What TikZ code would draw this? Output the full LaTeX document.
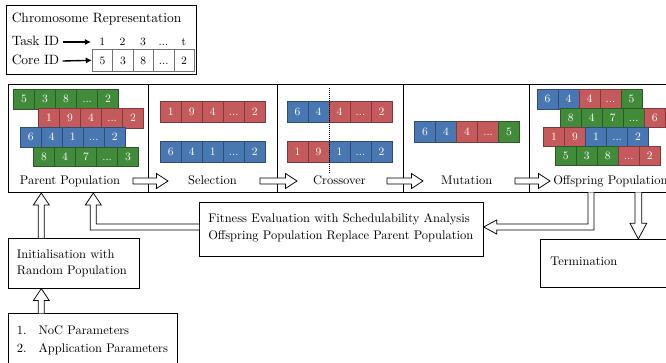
\documentclass[tikz,border=0pt]{standalone}
\usetikzlibrary{arrows.meta}
\definecolor{cgreen}{RGB}{66,139,58}
\definecolor{cred}{RGB}{196,90,92}
\definecolor{cblue}{RGB}{72,119,178}
\newcommand\celldots{...}
\tikzset{
  box/.style={draw, line width=0.6pt, anchor=north west, inner sep=0pt},
  lbl/.style={inner sep=0pt, text height=7pt, text depth=2pt},
  cell/.style={draw=#1!65!black, fill=#1, text=white, minimum width=16.8pt,
    inner sep=0pt, text height=6pt, text depth=0pt, anchor=north west,
    line width=0.5pt, font=\small},
  corecell/.style={draw=black!55, minimum width=16.3pt, minimum height=17.6pt,
    inner sep=0pt, text height=6pt, text depth=0pt, anchor=north west,
    line width=0.5pt, font=\small},
  hollow/.style={draw, fill=white, line width=0.6pt, line join=miter},
  idarrow/.style={line width=1.1pt, -{Latex[length=5pt,width=5pt]}}
}
% chromosome row: name, x, y, height(px), list colour/label
\newcommand\chromrow[5]{%
  \foreach \c/\t [count=\i] in {#5}{%
    \node[cell=\c, minimum height=#4*0.8pt] (#1-\i) at ({#2+21*(\i-1)},{#3}) {\t};
  }}
% rightward hollow arrow: x start, x tip, y
\newcommand\hollowR[3]{%
  \path[hollow] (#1,{#3-3}) -- ({#2-11.5},{#3-3}) -- ({#2-11.5},{#3-7.5}) -- (#2,#3)
    -- ({#2-11.5},{#3+7.5}) -- ({#2-11.5},{#3+3}) -- (#1,{#3+3}) -- cycle;}
% upward hollow arrow: x, y start (bottom), y tip
\newcommand\hollowU[3]{%
  \path[hollow] ({#1-3},#2) -- ({#1-3},{#3+12}) -- ({#1-8},{#3+12}) -- (#1,#3)
    -- ({#1+8},{#3+12}) -- ({#1+3},{#3+12}) -- ({#1+3},#2);}
\begin{document}
\begin{tikzpicture}[x=0.8pt,y=-0.8pt]
\useasboundingbox (0,0) rectangle (666,362);
\clip (0,0) rectangle (666,362);

% ---------- chromosome representation ----------
\node[box, minimum width=152pt, minimum height=55.2pt] (chromo) at (6,5) {};
\begin{scope}[font=\fontsize{10.8}{13}\selectfont]
  \node[lbl, anchor=west] (title) at (11.5,19) {Chromosome Representation};
  \node[lbl, anchor=west] (taskid) at (11.5,42) {Task ID};
  \node[lbl, anchor=west] (coreid) at (11.5,61) {Core ID};
\end{scope}
\foreach \t [count=\i] in {5,3,8,\celldots,2}{
  \node[corecell] (core-\i) at ({92+20.4*(\i-1)},49) {\t};
}
\foreach \t [count=\i] in {1,2,3,\celldots,t}{
  \node[lbl, font=\small] (task-\i) at ({92+20.4*(\i-0.5)},42) {\t};
}
\coordinate (taskend) at (91,42);
\draw[idarrow] ([xshift=2.5pt]taskid.east) -- (taskend);
\draw[idarrow] ([xshift=2.5pt]coreid.east) -- (core-1.west);

% ---------- stage boxes ----------
\node[box, minimum width=112pt, minimum height=86.4pt] (parent) at (8,84) {};
\node[box, minimum width=103.2pt, minimum height=86.4pt] (selection) at (148,84) {};
\node[box, minimum width=100.8pt, minimum height=86.4pt] (crossover) at (277,84) {};
\node[box, minimum width=100.8pt, minimum height=86.4pt] (mutation) at (403,84) {};
\node[box, minimum width=116pt, minimum height=86.4pt] (offspring) at (529,84) {};

% parent population
\chromrow{p1}{13.3}{89}{19.5}{cgreen/5,cgreen/3,cgreen/8,cgreen/\celldots,cgreen/2}
\chromrow{p2}{38.3}{108}{19.5}{cred/1,cred/9,cred/4,cred/\celldots,cred/2}
\chromrow{p3}{20}{127}{19.5}{cblue/6,cblue/4,cblue/1,cblue/\celldots,cblue/2}
\chromrow{p4}{33.3}{146.5}{19.5}{cgreen/8,cgreen/4,cgreen/7,cgreen/\celldots,cgreen/3}
% selection
\chromrow{s1}{160}{100.7}{21}{cred/1,cred/9,cred/4,cred/\celldots,cred/2}
\chromrow{s2}{160}{141}{21}{cblue/6,cblue/4,cblue/1,cblue/\celldots,cblue/2}
% crossover
\chromrow{c1}{286.7}{101}{21}{cblue/6,cblue/4,cred/4,cred/\celldots,cred/2}
\chromrow{c2}{286.7}{141}{21}{cred/1,cred/9,cblue/1,cblue/\celldots,cblue/2}
\draw[densely dotted, line width=0.6pt] (329.3,88) -- (329.3,173);
% mutation
\chromrow{m1}{414.3}{121}{21}{cblue/6,cblue/4,cred/4,cred/\celldots,cgreen/5}
% offspring
\chromrow{o1}{536.7}{89}{19.5}{cblue/6,cblue/4,cred/4,cred/\celldots,cgreen/5}
\chromrow{o2}{560}{107.7}{19.5}{cgreen/8,cgreen/4,cgreen/7,cgreen/\celldots,cred/6}
\chromrow{o3}{543.3}{126.7}{19.5}{cred/1,cred/9,cblue/1,cblue/\celldots,cblue/2}
\chromrow{o4}{555}{145.7}{19.5}{cgreen/5,cgreen/3,cgreen/8,cred/\celldots,cred/2}

% stage labels
\node[lbl] (lparent) at (70,181.5) {Parent Population};
\node[lbl] (lsel) at (212.5,181.5) {Selection};
\node[lbl] (lcross) at (339.5,181.5) {Crossover};
\node[lbl] (lmut) at (466.7,181.5) {Mutation};
\node[lbl, anchor=west] (loff) at (553,181.5) {Offspring Population};

% hollow arrows between stages
\hollowR{133}{168}{181}
\hollowR{260}{297}{181}
\hollowR{387}{423}{181}
\hollowR{515}{550}{181}

% ---------- lower boxes ----------
\node[box, minimum width=227.4pt, minimum height=43.2pt] (fitness) at (199,201.7) {};
\node[lbl, anchor=west] (fit1) at (208,219) {Fitness Evaluation with Schedulability Analysis};
\node[lbl, anchor=west] (fit2) at (208,236.7) {Offspring Population Replace Parent Population};

\node[box, minimum width=104.8pt, minimum height=40pt] (init) at (8.3,238) {};
\node[lbl, anchor=west] (init1) at (16.7,255) {Initialisation with};
\node[lbl, anchor=west] (init2) at (16.7,271.7) {Random Population};

\node[box, minimum width=120pt, minimum height=38.4pt] (term) at (540,239.3) {};
\node[lbl, anchor=west] (lterm) at (550,262.7) {Termination};

\node[box, minimum width=134.7pt, minimum height=48pt] (params) at (8.3,313.3) {};
\node[lbl, anchor=west] (n1) at (16.7,331.7) {1.};
\node[lbl, anchor=west] (p1t) at (38.3,331.7) {NoC Parameters};
\node[lbl, anchor=west] (n2) at (16.7,349.3) {2.};
\node[lbl, anchor=west] (p2t) at (38.3,349.3) {Application Parameters};

% ---------- hollow connectors ----------
\hollowU{41.3}{238}{193}
\hollowU{41.3}{313.3}{288.6}
% fitness -> parent
\path[hollow] (199,230) -- (90.3,230) -- (90.3,205) -- (85.3,205) -- (93.3,193)
  -- (101.3,205) -- (96.3,205) -- (96.3,224) -- (199,224);
% offspring -> fitness
\path[hollow] (588,192.3) -- (588,224) -- (496.7,224) -- (496.7,220) -- (483.6,227)
  -- (496.7,234) -- (496.7,230) -- (594,230) -- (594,192.3);
% offspring -> termination
\path[hollow] (635,192.3) -- (635,223.3) -- (630,223.3) -- (638.3,239) -- (646.7,223.3)
  -- (641.7,223.3) -- (641.7,192.3);
\end{tikzpicture}
\end{document}
